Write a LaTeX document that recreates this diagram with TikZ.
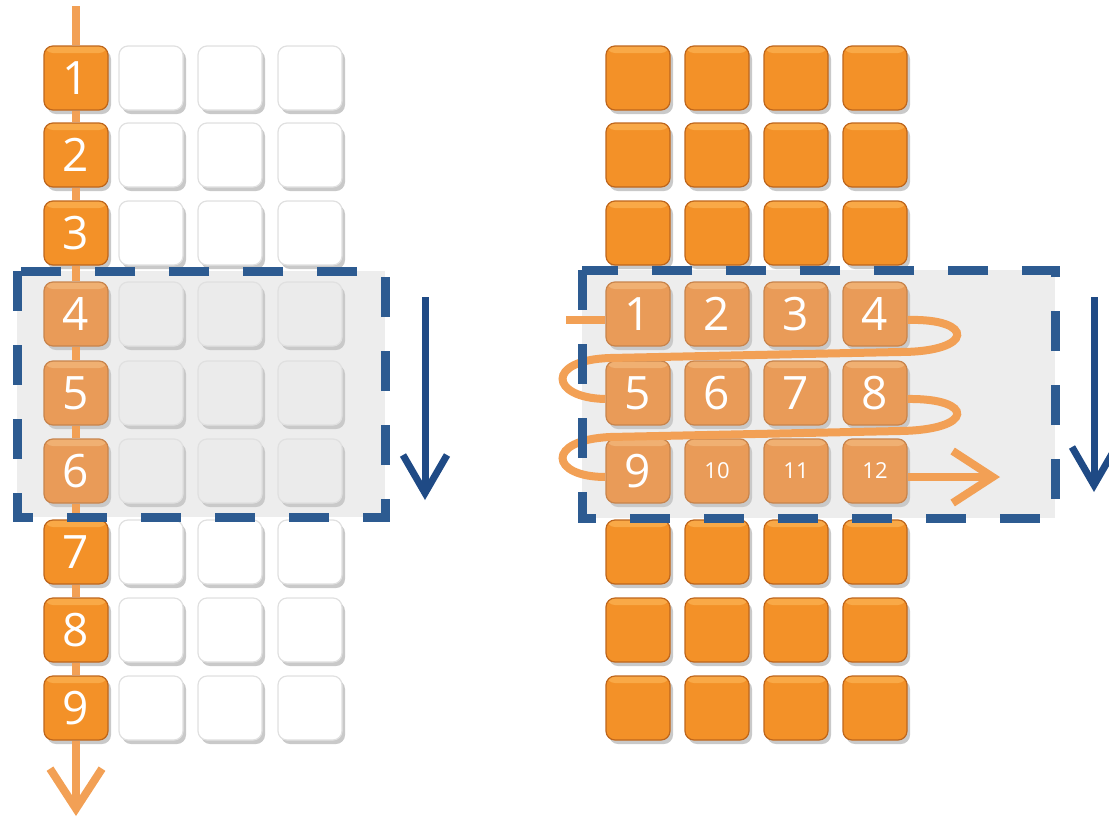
\documentclass[tikz,border=0pt]{standalone}
\usepackage{fontspec}
\setmainfont{Open Sans}
\usetikzlibrary{arrows.meta,shadows}
\definecolor{cellOrange}{HTML}{F39128}
\definecolor{cellOrangeTop}{HTML}{F9A947}
\definecolor{cellEdge}{HTML}{BE661C}
\definecolor{fadeFill}{HTML}{E99B58}
\definecolor{fadeTop}{HTML}{F0B072}
\definecolor{fadeEdge}{HTML}{C8844C}
\definecolor{scanOrange}{HTML}{F2A055}
\definecolor{frameBlue}{HTML}{2D5B91}
\definecolor{slideBlue}{HTML}{1F4A85}
\definecolor{windowGray}{HTML}{EDEDED}
\definecolor{shadowGray}{HTML}{C9C9C9}
\tikzset{
  % one memory cell
  cell/.style={rounded corners=9pt, minimum size=64pt, inner sep=0pt, line width=1.2pt,
    drop shadow={shadow xshift=3pt, shadow yshift=-4pt, fill=shadowGray, opacity=1}},
  ocell/.style={cell, draw=cellEdge, fill=cellOrange, text=white,
    font=\fontsize{46}{46}\selectfont,
    path picture={\fill[cellOrangeTop] (path picture bounding box.north west)
      rectangle ([yshift=-7pt]path picture bounding box.north east);}},
  fcell/.style={cell, draw=fadeEdge, fill=fadeFill, text=white,
    font=\fontsize{46}{46}\selectfont,
    path picture={\fill[fadeTop] (path picture bounding box.north west)
      rectangle ([yshift=-7pt]path picture bounding box.north east);}},
  wcell/.style={cell, draw=black!12, fill=white},
  gcell/.style={cell, draw=black!12, fill=black!8},
  % the sliding window
  window/.style={draw=frameBlue, line width=9pt, dash pattern=on 40pt off 34pt},
  windowfill/.style={fill=windowGray},
  % access order and window motion
  scanline/.style={draw=scanOrange, line width=8pt},
  scan/.style={scanline, -{Straight Barb[length=40pt,width=52pt]}},
  slide/.style={draw=slideBlue, line width=7pt, -{Straight Barb[length=38pt,width=44pt]}},
}
\begin{document}
\begin{tikzpicture}[x=1pt, y=1pt]
\useasboundingbox (0,-820) rectangle (1109,0);

% left: column access
\fill[windowfill] (17,-271) rectangle (385,-517);
\foreach \n/\y in {1/78,2/155,3/233,7/552,8/630,9/708}{
  \node[ocell] (l\n) at (76,-\y) {\n};
  \foreach \c/\x in {1/151,2/230,3/310}{\node[wcell] (l\n-\c) at (\x,-\y) {};}
}
\foreach \n/\y in {4/314,5/393,6/471}{
  \node[fcell] (l\n) at (76,-\y) {\n};
  \foreach \c/\x in {1/151,2/230,3/310}{\node[gcell] (l\n-\c) at (\x,-\y) {};}
}
\coordinate (colTop) at (76,-6);
\coordinate (colEnd) at (76,-816);
\draw[scanline] (colTop) -- (l1.north);
\foreach \a/\b in {1/2,2/3,3/4,4/5,5/6,6/7,7/8,8/9}{\draw[scanline] (l\a.south) -- (l\b.north);}
\draw[scan] (l9.south) -- (colEnd);
\draw[window] (17,-271) rectangle (385,-517);
\coordinate (lSlideTop) at (425,-297);
\coordinate (lSlideEnd) at (425,-500);
\draw[slide] (lSlideTop) -- (lSlideEnd);

% right: row access
\fill[windowfill] (582,-270) rectangle (1055,-518);
\foreach \r/\y in {a/78,b/155,c/233,d/552,e/630,f/708}{
  \foreach \c/\x in {1/638,2/717,3/796,4/875}{\node[ocell] (r\r-\c) at (\x,-\y) {};}
}
\foreach \r/\y in {0/314,1/393,2/471}{
  \foreach \c/\x in {1/638,2/717,3/796,4/875}{
    \pgfmathtruncatemacro\k{4*\r+\c}
    \node[fcell] (w\k) at (\x,-\y) {\ifnum\k>9 \fontsize{22}{22}\selectfont\fi\k};}
}
\coordinate (rowIn) at (566,-320);
\coordinate (rowOut) at (1000,-477);
\draw[scanline] (rowIn) -- ([yshift=-6pt]w1.west);
\draw[scanline] ([yshift=-6pt]w4.east) .. controls (975,-318) and (975,-352) .. (900,-352)
  -- (610,-358) .. controls (545,-360) and (550,-398) .. ([yshift=-6pt]w5.west);
\draw[scanline] ([yshift=-6pt]w8.east) .. controls (975,-398) and (975,-430) .. (900,-431)
  -- (610,-437) .. controls (545,-440) and (550,-477) .. ([yshift=-6pt]w9.west);
\draw[scan] ([yshift=-6pt]w12.east) -- (rowOut);
\draw[window] (582,-270) rectangle (1055,-518);
\coordinate (rSlideTop) at (1094,-297);
\coordinate (rSlideEnd) at (1094,-492);
\draw[slide] (rSlideTop) -- (rSlideEnd);
\end{tikzpicture}
\end{document}
